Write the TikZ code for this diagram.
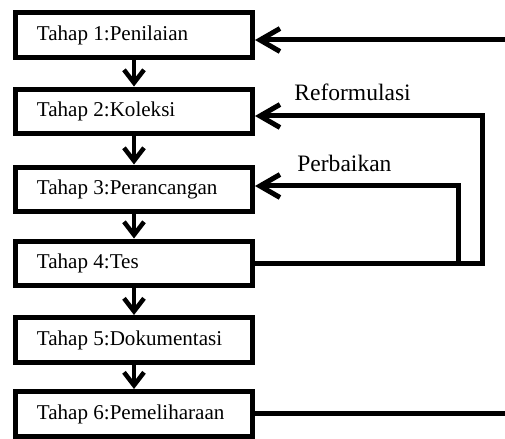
\documentclass[tikz,border=0pt]{standalone}
\usepackage{fontspec}
\setmainfont{Liberation Serif}
\usetikzlibrary{arrows.meta,calc}
\tikzset{>=latex,
    tahapbox/.style={draw, line width=0.1cm, minimum width=4.74cm, minimum height=0.9cm, inner sep=0},
    tahaptext/.style={anchor=west, xshift=0.47cm, inner sep=0, font=\fontsize{12}{14}\selectfont},
    turun/.style={line width=0.09cm, -{Straight Barb[length=0.26cm,width=0.4cm]}},
    balik/.style={line width=0.1cm, -{Straight Barb[length=0.4cm,width=0.46cm]}},
    catatan/.style={anchor=base west, inner sep=0, font=\fontsize{13.4}{15}\selectfont}}

\begin{document}
\begin{tikzpicture}[x=0.02cm, y=-0.02cm]
    \useasboundingbox (0,0) rectangle (505,439);
    \foreach \n/\y/\nama in {1/35/Penilaian, 2/111.5/Koleksi, 3/189.5/Perancangan,
                             4/263.5/Tes, 5/340/Dokumentasi, 6/414/Pemeliharaan} {
      \node[tahapbox] (box\n) at (134,\y) {};
      \node[tahaptext] (teks\n) at (box\n.west) {Tahap \n:\nama};
    }
    \foreach \a/\b in {1/2, 2/3, 3/4, 4/5, 5/6} {
      \draw[turun] (box\a) -- (box\b);
    }
    % loop balik
    \coordinate (masuk) at (505,40);
    \coordinate (keluar) at (505,414);
    \coordinate (reform) at (483,116);
    \coordinate (perbaik) at (459,186);
    \draw[balik] (masuk) -- (masuk -| box1.east);
    \draw[balik] (box4.east) -| (reform) -- (reform -| box2.east);
    \draw[balik] (box4.east) -| (perbaik) -- (perbaik -| box3.east);
    \draw[line width=0.1cm] (box6.east) -- (keluar);
    \node[catatan] (reformulasi) at (294,100.5) {Reformulasi};
    \node[catatan] (perbaikan) at (297,172) {Perbaikan};
  \end{tikzpicture}
\end{document}
